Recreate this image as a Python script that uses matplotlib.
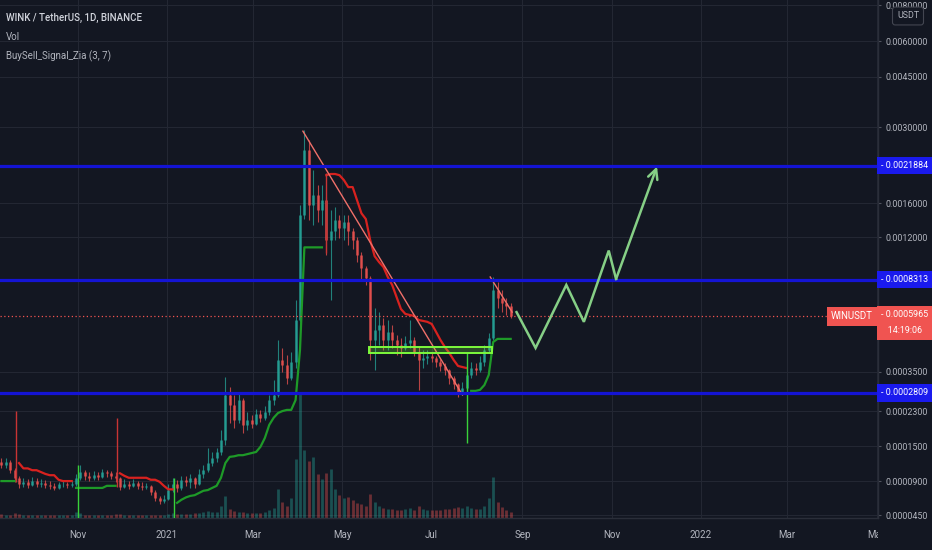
import numpy as np
import pandas as pd
import matplotlib
matplotlib.use("Agg")
import matplotlib.pyplot as plt
import matplotlib.dates as mdates
from matplotlib.patches import Rectangle
from matplotlib.transforms import Bbox, blended_transform_factory
from matplotlib.ticker import NullLocator
from matplotlib import font_manager as fm

names = {f.name for f in fm.fontManager.ttflist}
FONT = 'Liberation Sans Narrow' if 'Liberation Sans Narrow' in names else 'Roboto'
NARROW = FONT == 'Liberation Sans Narrow'
plt.rcParams['font.family'] = [FONT, 'DejaVu Sans']
PS = 7.5 if NARROW else 6.4     # price-scale font size
LS = 8.0 if NARROW else 7.0     # legend font size
XS = 7.5 if NARROW else 7.0     # time-axis font size

# ---------------- data (prices in units of 1e-4 USDT) ----------------
PRICE_UNIT = 1e-4
candle_start = '2020-09-10'          # 3-day candles
first_open_e4 = 1.21
close_e4 = [1.16, 1.21, 1.07, 0.95, 0.86, 0.89, 0.84, 0.90, 0.86, 0.87,
            0.84, 0.83, 0.80, 0.86, 0.86, 0.84, 0.86, 0.95, 1.04, 0.98,
            0.95, 0.99, 0.96, 1.04, 1.02, 0.98, 0.95, 0.81, 0.86, 0.83,
            0.87, 0.83, 0.81, 0.83, 0.74, 0.66, 0.63, 0.65, 0.77, 0.86,
            0.80, 0.92, 0.89, 0.95, 0.86, 1.01, 1.07, 1.19, 1.28, 1.39,
            1.63, 2.75, 2.46, 2.08, 2.60, 1.96, 2.08, 1.98, 2.23, 2.13,
            2.28, 2.60, 2.75, 3.94, 3.75, 3.29, 3.86, 5.77, 14.5, 24.9,
            15.8, 17.1, 15.1, 16.4, 11.7, 12.6, 13.9, 13.0, 13.7, 12.6,
            11.7, 10.3, 9.20, 8.43, 4.78, 5.26, 5.51, 4.78, 5.16, 4.78,
            4.56, 4.43, 4.65, 4.78, 4.26, 3.94, 4.02, 4.10, 4.02, 3.86,
            3.71, 3.56, 3.29, 3.08, 2.84, 2.96, 3.39, 3.63, 3.56, 3.86,
            4.34, 4.87, 7.58, 7.05, 6.74, 6.56, 5.965]
high_e4 = [1.28, 1.28, 1.24, 1.10, 0.98, 0.95, 0.93, 0.96, 0.95, 0.93,
           0.92, 0.90, 0.87, 0.89, 0.90, 0.89, 0.90, 1.01, 1.16, 1.07,
           1.04, 1.05, 1.04, 1.09, 1.07, 1.05, 1.04, 0.96, 0.93, 0.90,
           0.93, 0.90, 0.89, 0.87, 0.84, 0.77, 0.69, 0.70, 0.86, 0.95,
           0.92, 0.98, 0.98, 1.01, 0.96, 1.09, 1.16, 1.47, 1.39, 1.47,
           1.84, 3.32, 2.99, 2.75, 2.81, 2.66, 2.28, 2.20, 2.36, 2.33,
           2.43, 2.75, 3.22, 4.78, 4.43, 4.14, 4.26, 6.93, 15.8, 29.3,
           27.0, 21.1, 18.6, 18.6, 16.8, 15.1, 15.5, 14.5, 14.5, 14.5,
           13.0, 12.0, 10.6, 9.40, 8.60, 6.44, 6.21, 5.88, 5.77, 5.51,
           5.01, 4.87, 4.96, 5.77, 4.90, 4.47, 4.34, 4.34, 4.26, 4.10,
           3.98, 3.82, 3.60, 3.35, 3.12, 3.15, 3.75, 3.86, 3.82, 4.10,
           4.56, 5.11, 8.50, 8.13, 7.58, 7.05, 6.74]
low_e4 = [1.10, 1.10, 1.02, 0.89, 0.80, 0.81, 0.80, 0.83, 0.81, 0.81,
          0.80, 0.78, 0.77, 0.78, 0.81, 0.80, 0.81, 0.83, 0.92, 0.92,
          0.90, 0.92, 0.92, 0.95, 0.96, 0.93, 0.89, 0.77, 0.80, 0.78,
          0.81, 0.78, 0.77, 0.78, 0.70, 0.63, 0.58, 0.60, 0.64, 0.74,
          0.74, 0.77, 0.83, 0.80, 0.80, 0.84, 0.95, 1.04, 1.14, 1.21,
          1.33, 1.53, 2.01, 1.89, 2.00, 1.77, 1.84, 1.89, 1.95, 2.03,
          2.08, 2.20, 2.46, 2.70, 3.49, 3.08, 3.20, 3.63, 5.67, 14.0,
          13.9, 13.3, 13.7, 13.3, 10.3, 6.93, 11.7, 11.9, 11.7, 11.2,
          10.8, 9.69, 8.28, 7.92, 3.94, 3.56, 4.56, 4.34, 4.34, 4.43,
          4.14, 4.06, 4.34, 4.43, 4.10, 2.90, 3.63, 3.79, 3.86, 3.67,
          3.53, 3.39, 3.08, 2.93, 2.69, 2.75, 2.90, 3.29, 3.39, 3.49,
          3.71, 4.22, 4.78, 6.44, 6.21, 6.04, 5.88]
volume = [4, 3, 3, 5, 4, 3, 3, 3, 3, 3, 3, 3, 3, 3, 3, 3, 3,
          6, 5, 3, 3, 3, 3, 3, 3, 3, 4,
          4, 3, 3, 3, 3, 3, 3, 3, 3, 3, 3,
          4, 5, 4, 4, 4, 4, 5, 5, 6, 7, 6, 6,
          12, 23, 9, 7, 6, 6, 5, 5, 5, 5,
          6, 8, 10, 30, 16, 12, 20, 60, 128, 70,
          58, 62, 45, 40, 46, 50, 30, 24, 20, 22,
          18, 15, 14, 12, 25, 16, 12, 10, 9, 9,
          8, 8, 9, 10, 8, 12, 9, 8, 8, 8,
          8, 9, 9, 10, 11, 10, 12, 10, 9, 9,
          12, 20, 42, 16, 11, 8, 6]
nan = float('nan')
sell_band_e4 = ([nan] * 4 +
                [1.19, 1.10, 1.10, 1.07, 1.07, 1.04, 1.01, 0.99, 0.99, 0.92, 0.90, 0.90, 0.90] +
                [nan] * 10 +
                [1.02, 0.98, 0.95, 0.95, 0.95, 0.95, 0.95, 0.92, 0.92, 0.89, 0.83, 0.78, 0.78] +
                [nan] * 34 +
                [20.2, 20.4, 20.4, 20.2, 19.4, 18.3, 18.3, 16.4, 14.7, 14.0, 11.7, 10.2, 9.69,
                 9.28, 8.50, 7.92, 7.11, 6.38, 6.10, 6.04, 5.99, 5.77, 5.72, 5.67, 5.56, 5.16,
                 4.78, 4.47, 4.22, 3.94, 3.71, 3.67, 3.63] +
                [nan] * 10)
buy_band_e4 = ([0.90] * 4 +
               [nan] * 13 +
               [0.80, 0.80, 0.80, 0.80, 0.80, 0.80, 0.80, 0.83, 0.83, 0.83] +
               [nan] * 13 +
               [0.60, 0.64, 0.67, 0.69, 0.70, 0.73, 0.76, 0.77, 0.80, 0.83, 0.95, 1.19,
                1.30, 1.31, 1.33, 1.33, 1.35, 1.37, 1.39, 1.49, 1.67, 1.96, 2.13, 2.25,
                2.30, 2.33, 2.33, 2.60, 4.34, 11.0, 11.0, 11.0, 11.0, 11.0] +
               [nan] * 33 +
               [2.87, 2.87, 2.90, 3.05, 3.39, 4.69, 4.83, 4.83, 4.83, 4.83])
signal_dates = ['2020-09-20', '2020-11-01', '2020-11-28', '2021-01-06', '2021-04-20', '2021-07-25']
signal_kind = ['sell', 'buy', 'sell', 'buy', 'sell', 'buy']
signal_top_e4 = [2.30, 1.16, 2.13, 0.95, 20.5, 4.22]
signal_bottom_e4 = [0.89, 0.30, 0.81, 0.30, 10.5, 1.57]

levels = [0.0021884, 0.0008313, 0.0002809]
last_price = 0.0005965
countdown = '14:19:06'
symbol = 'WINUSDT'

trend_main_dates = ['2021-04-04', '2021-07-22']
trend_main_e4 = [29.0, 2.75]
trend_small_dates = ['2021-08-10', '2021-08-25']
trend_small_e4 = [8.5, 6.2]
zone_dates = ['2021-05-19', '2021-08-11']
zone_e4 = [4.22, 4.45]
proj_dates = ['2021-08-28', '2021-09-10', '2021-10-01', '2021-10-13', '2021-10-30', '2021-11-04', '2021-12-02']
proj_e4 = [6.2, 4.43, 7.92, 5.67, 10.7, 8.35, 21.7]

ytick_vals = [0.0080000, 0.0060000, 0.0045000, 0.0030000, 0.0016000, 0.0012000,
              0.0003500, 0.0002300, 0.0001500, 0.0000900, 0.0000450]
xtick_dates = ['2020-11-01', '2021-01-01', '2021-03-01', '2021-05-01', '2021-07-01',
               '2021-09-01', '2021-11-01', '2022-01-01', '2022-03-01', '2022-05-01']
xtick_labels = ['Nov', '2021', 'Mar', 'May', 'Jul', 'Sep', 'Nov', '2022', 'Mar', 'May']

# ---------------- styling ----------------
BG = '#131722'
GRID = '#232733'
TXT = '#b2b5be'
UP = '#26a69a'
DN = '#ef5350'
BLUE = '#1414d4'
PROJ = '#86cf86'

U = PRICE_UNIT
close = np.array(close_e4) * U
high = np.array(high_e4) * U
low = np.array(low_e4) * U
vol = np.array(volume, float)
n = len(close)
assert len(high) == n and len(low) == n and len(vol) == n
assert len(sell_band_e4) == n and len(buy_band_e4) == n
opens = np.r_[first_open_e4 * U, close[:-1]]
high = np.maximum.reduce([high, opens, close])
low = np.minimum.reduce([low, opens, close])
dates = mdates.date2num(pd.date_range(candle_start, periods=n, freq='3D'))
up = close >= opens
cols = np.where(up, UP, DN)


def fwd(v):
    return np.log10(np.clip(np.asarray(v, float) * 1e4 + 1.0, 1e-6, None))


def inv(t):
    return (10 ** np.asarray(t, float) - 1.0) / 1e4


fig = plt.figure(figsize=(9.32, 5.5), dpi=100, facecolor=BG)
ax = fig.add_axes([0, 32 / 550, 878 / 932, 518 / 550], facecolor=BG)
ax.set_yscale('function', functions=(fwd, inv))

# volume
ax.vlines(dates, 0, vol / vol.max() * (125 / 518), transform=ax.get_xaxis_transform(),
          colors=cols, lw=2.0, alpha=0.4, zorder=1)

# candles
ax.vlines(dates, low, high, colors=cols, lw=0.8, alpha=0.75, zorder=3)
ax.vlines(dates, np.minimum(opens, close), np.maximum(opens, close), colors=cols,
          lw=2.0, alpha=0.75, zorder=3)

# indicator bands
ax.plot(dates, np.array(sell_band_e4) * U, color='#d8221f', lw=1.6, zorder=4)
ax.plot(dates, np.array(buy_band_e4) * U, color='#1e9a28', lw=1.6, zorder=4)
sd = mdates.date2num(pd.to_datetime(signal_dates))
for d, k, t, b in zip(sd, signal_kind, signal_top_e4, signal_bottom_e4):
    ax.vlines(d, b * U, t * U, colors='#c83434' if k == 'sell' else '#39d23a', lw=1.0, zorder=4)

# drawings
ax.plot(mdates.date2num(pd.to_datetime(trend_main_dates)), np.array(trend_main_e4) * U,
        color='#f0706a', lw=1.0, zorder=5)
ax.plot(mdates.date2num(pd.to_datetime(trend_small_dates)), np.array(trend_small_e4) * U,
        color='#f0706a', lw=1.0, zorder=5)
zd = mdates.date2num(pd.to_datetime(zone_dates))
ax.add_patch(Rectangle((zd[0], zone_e4[0] * U), zd[1] - zd[0], (zone_e4[1] - zone_e4[0]) * U,
                       facecolor=(0.49, 0.98, 0.24, 0.22), edgecolor='#7dfa3c', lw=1.4, zorder=5))
for lv in levels:
    ax.axhline(lv, color=BLUE, lw=2.3, zorder=5)
ax.axhline(last_price, color=DN, lw=0.9, ls=(0, (1, 2)), zorder=5)

pdn = mdates.date2num(pd.to_datetime(proj_dates))
pp = np.array(proj_e4) * U
ax.plot(pdn[:-1], pp[:-1], color=PROJ, lw=1.8, zorder=6, solid_joinstyle='miter')
ax.annotate('', xy=(pdn[-1], pp[-1]), xytext=(pdn[-2], pp[-2]),
            arrowprops=dict(arrowstyle='->,head_length=0.7,head_width=0.35', color=PROJ, lw=1.8,
                            shrinkA=0, shrinkB=0), zorder=6)

# axes
ax.set_xlim(mdates.date2num(pd.Timestamp('2020-09-09')), mdates.date2num(pd.Timestamp('2022-05-02')))
ax.set_ylim(0.42e-4, 83.4e-4)
ax.yaxis.tick_right()
ax.set_yticks(ytick_vals)
ax.set_yticklabels([f'{v:.7f}' for v in ytick_vals])
ax.yaxis.set_minor_locator(NullLocator())
xt = mdates.date2num(pd.to_datetime(xtick_dates))
ax.set_xticks(xt)
ax.set_xticklabels(xtick_labels[:-1] + [''])
ax.tick_params(axis='y', color='#50535e', labelcolor=TXT, labelsize=PS, length=2.5, width=0.8, pad=3)
ax.tick_params(axis='x', length=0, pad=9, labelcolor=TXT, labelsize=XS)
ax.grid(True, color=GRID, lw=0.8)
ax.set_axisbelow(True)
for s in ['left', 'top']:
    ax.spines[s].set_visible(False)
for s in ['right', 'bottom']:
    ax.spines[s].set_color('#2a2e39')
    ax.spines[s].set_linewidth(1.0)

may = fig.text(876 / 932, 1 - 535 / 550, xtick_labels[-1], ha='center', va='center',
               color=TXT, fontsize=XS)
may.set_clip_box(Bbox.from_extents(0, 0, 878, 550))
may.set_clip_on(True)

# price-scale labels
trans = blended_transform_factory(ax.transAxes, ax.transData)
for lv in levels:
    ax.annotate(f'- {lv:.7f}', xy=(1.0, lv), xycoords=trans, xytext=(3, 0), textcoords='offset pixels',
                ha='left', va='center', color='white', fontsize=PS, annotation_clip=False,
                bbox=dict(boxstyle='square,pad=0.5', fc='#1a1aee', ec='none'), zorder=10)
ax.annotate(f'- {last_price:.7f}\n   {countdown}', xy=(1.0, last_price), xycoords=trans,
            xytext=(3, 6), textcoords='offset pixels', ha='left', va='top', color='white',
            fontsize=PS, linespacing=2.0, annotation_clip=False,
            bbox=dict(boxstyle='square,pad=0.5', fc='#f05451', ec='none'), zorder=10)
ax.annotate(symbol, xy=(1.0, last_price), xycoords=trans, xytext=(-5, 0), textcoords='offset pixels',
            ha='right', va='center', color='white', fontsize=PS + 0.5, annotation_clip=False,
            bbox=dict(boxstyle='square,pad=0.45', fc='#f05451', ec='none'), zorder=10)

fig.text(908 / 932, 1 - 16 / 550, 'USDT', ha='center', va='center', fontsize=PS, color=TXT,
         bbox=dict(boxstyle='round,pad=0.5,rounding_size=0.3', fc=BG, ec='#434651', lw=0.8), zorder=10)

# legend texts
fig.text(6 / 932, 1 - 18 / 550, 'WINK / TetherUS, 1D, BINANCE', color='#d1d4dc', fontsize=LS,
         va='center', ha='left', fontweight='medium')
fig.text(6 / 932, 1 - 37 / 550, 'Vol', color=TXT, fontsize=LS, va='center', ha='left')
fig.text(6 / 932, 1 - 56 / 550, 'BuySell_Signal_Zia (3, 7)', color=TXT, fontsize=LS, va='center', ha='left')

fig.savefig('out.png', dpi=100, facecolor=BG)
